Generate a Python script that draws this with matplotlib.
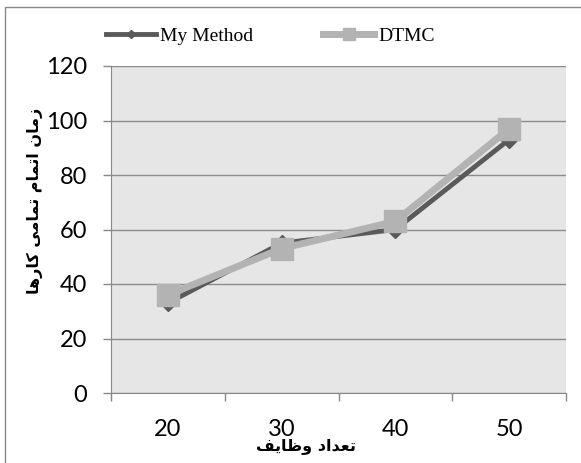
import matplotlib
matplotlib.use('Agg')
import matplotlib.pyplot as plt
from matplotlib.patches import Rectangle

# task counts and total completion times
tasks = ['20', '30', '40', '50']
my_method = [33, 55, 60, 93]
dtmc = [36, 53, 63, 97]

xlabel_fa = 'تعداد وظایف'
ylabel_fa = 'زمان اتمام تمامی کارها'

# Arabic presentation forms: isolated, final, initial, medial
FORMS = {
    'ا': ('\uFE8D', '\uFE8E', None, None),
    'ت': ('\uFE95', '\uFE96', '\uFE97', '\uFE98'),
    'د': ('\uFEA9', '\uFEAA', None, None),
    'ر': ('\uFEAD', '\uFEAE', None, None),
    'ز': ('\uFEAF', '\uFEB0', None, None),
    'ظ': ('\uFEC5', '\uFEC6', '\uFEC7', '\uFEC8'),
    'ع': ('\uFEC9', '\uFECA', '\uFECB', '\uFECC'),
    'ف': ('\uFED1', '\uFED2', '\uFED3', '\uFED4'),
    'م': ('\uFEE1', '\uFEE2', '\uFEE3', '\uFEE4'),
    'ن': ('\uFEE5', '\uFEE6', '\uFEE7', '\uFEE8'),
    'ه': ('\uFEE9', '\uFEEA', '\uFEEB', '\uFEEC'),
    'و': ('\uFEED', '\uFEEE', None, None),
    'ی': ('\uFBFC', '\uFBFD', '\uFBFE', '\uFBFF'),
    'ک': ('\uFB8E', '\uFB8F', '\uFB90', '\uFB91'),
}


def shape(text):
    # join letters and flip to visual order, since matplotlib has no bidi
    out = []
    for i, c in enumerate(text):
        if c not in FORMS:
            out.append(c)
            continue
        iso, fin, ini, med = FORMS[c]
        prev = text[i - 1] if i > 0 else None
        nxt = text[i + 1] if i + 1 < len(text) else None
        join_prev = prev in FORMS and FORMS[prev][2] is not None
        join_next = ini is not None and nxt in FORMS
        if join_prev and join_next:
            out.append(med)
        elif join_prev:
            out.append(fin)
        elif join_next:
            out.append(ini)
        else:
            out.append(iso)
    return ''.join(reversed(out))


fig = plt.figure(figsize=(5.81, 4.63), dpi=100)
ax = fig.add_axes([111 / 581, 70 / 463, 455 / 581, 327 / 463])
ax.set_facecolor('#e6e6e6')

x = range(len(tasks))
ax.plot(x, my_method, color='#5a5a5a', lw=3.5, marker='D', ms=8,
        label='My Method', zorder=3)
ax.plot(x, dtmc, color='#b3b3b3', lw=5, marker='s', ms=16.5,
        label='DTMC', zorder=4)

ax.set_ylim(0, 120)
ax.set_yticks(range(0, 121, 20))
ax.set_xlim(-0.5, len(tasks) - 0.5)
ax.set_xticks([i - 0.5 for i in range(len(tasks) + 1)])
ax.set_xticklabels([])
ax.set_xticks(list(x), minor=True)
ax.set_xticklabels(tasks, minor=True)

ax.grid(axis='y', color='#8c8c8c', lw=1)
ax.set_axisbelow(True)
for s in ['top', 'right']:
    ax.spines[s].set_visible(False)
for s in ['left', 'bottom']:
    ax.spines[s].set_color('#888888')
ax.tick_params(axis='both', which='major', color='#888888', length=6,
               width=1, labelsize=17, pad=11)
ax.tick_params(axis='x', which='minor', length=0, labelsize=17, pad=19)
for lbl in ax.get_xticklabels(minor=True) + ax.get_yticklabels():
    lbl.set_fontfamily('Lato')
    lbl.set_color('black')

ax.set_xlabel(shape(xlabel_fa), fontsize=11.5, fontweight='bold',
              family='DejaVu Sans', va='center')
ax.xaxis.set_label_coords(0.429, -0.163)
ax.set_ylabel(shape(ylabel_fa), fontsize=11.5, fontweight='bold',
              family='DejaVu Sans', va='center')
ax.yaxis.set_label_coords(-0.167, 0.587)

fig.legend(loc='center', bbox_to_anchor=(0.465, 0.922), ncol=2, frameon=False,
           prop={'family': 'Liberation Serif', 'size': 14},
           handlelength=2.6, handletextpad=0.2, columnspacing=3.6,
           markerscale=0.5, borderpad=0)

# outer chart border
fig.add_artist(Rectangle((5 / 581, -0.5), 2, 0.5 + 456 / 463,
                         transform=fig.transFigure, fill=False,
                         edgecolor='#888888', lw=1))

fig.savefig('out.png', dpi=100)
